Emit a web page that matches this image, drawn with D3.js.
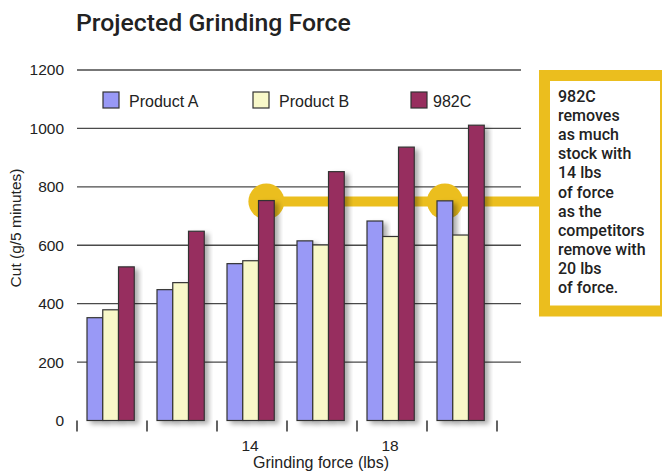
<!DOCTYPE html>
<html>
<head>
<meta charset="utf-8">
<script src="https://cdn.jsdelivr.net/npm/d3@7"></script>
<style>
  html, body { margin: 0; padding: 0; background: #fff; }
  svg { display: block; }
  text { font-family: "Liberation Sans", Arial, Helvetica, sans-serif; fill: #222; }
  .medium { font-family: Roboto, "Liberation Sans", Arial, sans-serif; font-weight: 500; }
</style>
</head>
<body>
<svg id="chart" width="662" height="471"></svg>
<script>
// ---- data ----
const categories = ["10", "12", "14", "16", "18", "20"];
const shownTickLabels = ["14", "18"];
const seriesNames = ["Product A", "Product B", "982C"];
const productA = [352, 448, 537, 615, 683, 752];
const productB = [379, 472, 547, 601, 630, 635];
const product982C = [526, 648, 753, 852, 936, 1011];
const yTicks = [0, 200, 400, 600, 800, 1000, 1200];
const calloutLines = ["982C", "removes", "as much", "stock with", "14 lbs", "of force", "as the", "competitors", "remove with", "20 lbs", "of force."];
const highlightPoints = [
  { category: "14", series: 2, value: 750 },
  { category: "20", series: 0, value: 750 }
];

// ---- styles ----
const colors = ["#9999F6", "#F8F8C9", "#972E5E"];
const gold = "#EBBE1E";

const svg = d3.select("#chart");
const defs = svg.append("defs");
const f = defs.append("filter").attr("id", "shadow")
  .attr("x", "-30%").attr("y", "-10%").attr("width", "180%").attr("height", "130%");
f.append("feDropShadow").attr("dx", 4).attr("dy", 3).attr("stdDeviation", 2.6)
  .attr("flood-color", "#000").attr("flood-opacity", 0.32);

const gridLeft = 77, gridRight = 521;
const x = d3.scaleBand().domain(categories).range([77, 497]);
const y = d3.scaleLinear().domain([0, 1200]).range([420.5, 70]);
const barOffset = x.bandwidth() * 0.143;
const barW = x.bandwidth() * 0.225;
const series = [productA, productB, product982C];

// title
svg.append("text").attr("class", "medium").attr("x", 76).attr("y", 31)
  .attr("font-size", 24.8).attr("fill", "#222")
  .text("Projected Grinding Force");

// gridlines
svg.append("g").selectAll("line").data(yTicks.filter(d => d > 0)).join("line")
  .attr("x1", gridLeft).attr("x2", gridRight)
  .attr("y1", d => y(d)).attr("y2", d => y(d))
  .attr("stroke", "#4a4a4a").attr("stroke-width", 1.3);

// y tick labels
svg.append("g").selectAll("text").data(yTicks).join("text")
  .attr("x", 64).attr("y", d => y(d)).attr("dy", "0.35em")
  .attr("text-anchor", "end").attr("font-size", 15.5)
  .text(d => d);

// y title
svg.append("text")
  .attr("transform", `translate(21,228) rotate(-90)`)
  .attr("text-anchor", "middle").attr("font-size", 15.5)
  .text("Cut (g/5 minutes)");

// highlight connector + circles
const hp = highlightPoints.map(p => ({
  cx: x(p.category) + barOffset + barW * (p.series + 0.5),
  cy: y(p.value)
}));
svg.append("line")
  .attr("x1", hp[0].cx).attr("x2", 546)
  .attr("y1", hp[0].cy).attr("y2", hp[0].cy)
  .attr("stroke", gold).attr("stroke-width", 10);
svg.append("g").selectAll("circle").data(hp).join("circle")
  .attr("cx", d => d.cx).attr("cy", d => d.cy).attr("r", 18)
  .attr("fill", gold);

// x axis line with shadow
svg.append("line")
  .attr("x1", gridLeft).attr("x2", gridRight)
  .attr("y1", y(0)).attr("y2", y(0))
  .attr("stroke", "#222").attr("stroke-width", 1.4)
  .attr("filter", "url(#shadow)");

// bars
const groups = svg.append("g").selectAll("g").data(categories).join("g");
groups.selectAll("rect")
  .data((c, i) => series.map((s, si) => ({ c, si, v: s[i] })))
  .join("rect")
  .attr("x", d => x(d.c) + barOffset + d.si * barW)
  .attr("y", d => y(d.v))
  .attr("width", barW)
  .attr("height", d => y(0) - y(d.v))
  .attr("fill", d => colors[d.si])
  .attr("stroke", "#333").attr("stroke-width", 1.2)
  .attr("filter", "url(#shadow)");

// x ticks
const tickXs = categories.map(c => x(c)).concat([x.range()[1]]);
svg.append("g").selectAll("line").data(tickXs).join("line")
  .attr("x1", d => d).attr("x2", d => d)
  .attr("y1", y(0)).attr("y2", y(0) + 11)
  .attr("stroke", "#222").attr("stroke-width", 1.4);

// x tick labels
svg.append("g").selectAll("text").data(shownTickLabels).join("text")
  .attr("x", d => x(d) + x.bandwidth() / 2 - 2)
  .attr("y", 451).attr("text-anchor", "middle").attr("font-size", 15.5)
  .text(d => d);

// x title
svg.append("text").attr("x", 321).attr("y", 468)
  .attr("text-anchor", "middle").attr("font-size", 16)
  .text("Grinding force (lbs)");

// legend
const legendX = [103, 253, 411];
const lg = svg.append("g").selectAll("g").data(seriesNames).join("g")
  .attr("transform", (d, i) => `translate(${legendX[i]},92)`);
lg.append("rect").attr("width", 16).attr("height", 16)
  .attr("fill", (d, i) => colors[i]).attr("stroke", "#333").attr("stroke-width", 1.2);
lg.append("text").attr("x", (d, i) => i === 2 ? 22 : 26).attr("y", 14.5)
  .attr("font-size", 16).text(d => d);

// callout box
svg.append("rect")
  .attr("x", 544.5).attr("y", 75.5).attr("width", 121).attr("height", 235.5)
  .attr("fill", "#fff").attr("stroke", gold).attr("stroke-width", 11);
svg.append("g").selectAll("text").data(calloutLines).join("text")
  .attr("class", "medium")
  .attr("x", 558).attr("y", (d, i) => 102 + i * 19.1)
  .attr("font-size", 16).attr("fill", "#2a2a2a")
  .text(d => d);
</script>
</body>
</html>
